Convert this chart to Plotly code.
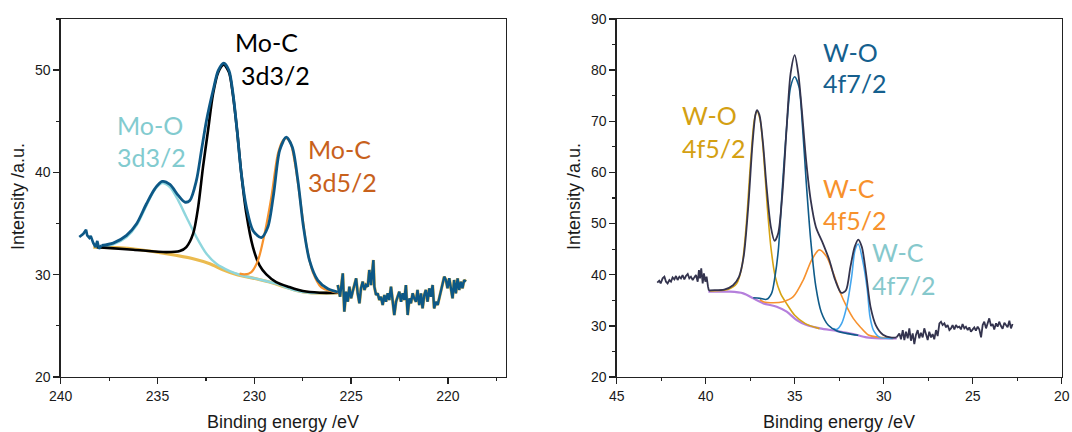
import plotly.graph_objects as go

# ---------------- Left panel (Mo 3d) ----------------
mo_noise_hi_E = [239.04, 238.83, 238.69, 238.63, 238.52, 238.45, 238.32, 238.20, 238.11, 238.02, 237.89]
mo_noise_hi_I = [33.68, 34.00, 34.40, 33.84, 33.60, 33.80, 33.10, 32.70, 33.30, 32.54, 32.87]

mo_env_E = [237.89, 237.29, 236.60, 236.08, 235.57, 235.14, 234.76, 234.36, 233.93, 233.59, 233.33,
            232.99, 232.73, 232.47, 232.13, 231.86, 231.58, 231.31, 231.10, 230.89, 230.67, 230.41,
            230.07, 229.64, 229.30, 229.00, 228.69, 228.35, 228.04, 227.75, 227.46, 227.15, 226.72,
            226.20, 225.69]
mo_env_I = [32.87, 33.09, 33.84, 34.98, 36.94, 38.40, 39.12, 38.83, 37.75, 37.10, 37.26,
            39.22, 42.15, 45.08, 48.01, 49.97, 50.68, 49.97, 47.69, 44.10, 39.87, 36.61,
            34.33, 33.62, 34.66, 37.92, 42.15, 43.45, 42.48, 39.22, 34.66, 31.40, 29.45,
            28.63, 28.31]

mo_noise_lo_E = [225.69, 225.57, 225.43, 225.35, 225.26, 225.17, 225.09, 225.00, 224.92, 224.83,
                 224.74, 224.66, 224.57, 224.49, 224.40, 224.31, 224.23, 224.14, 224.06, 223.97,
                 223.92, 223.85, 223.80, 223.71, 223.63, 223.54, 223.46, 223.37, 223.28, 223.20,
                 223.11, 223.03, 222.94, 222.85, 222.77, 222.68, 222.60, 222.51, 222.42, 222.34,
                 222.25, 222.17, 222.08, 221.99, 221.91, 221.82, 221.74, 221.65, 221.57, 221.48,
                 221.39, 221.31, 221.22, 221.14, 221.05, 220.96, 220.88, 220.79, 220.71, 220.62,
                 220.53, 220.45, 220.36, 220.28, 220.19, 220.10, 220.02, 219.93, 219.85, 219.76,
                 219.68, 219.59, 219.50, 219.42, 219.33, 219.25, 219.16, 219.07]
mo_noise_lo_I = [28.99, 27.85, 30.13, 26.39, 28.34, 27.36, 28.83, 27.69, 28.34, 29.16,
                 29.65, 28.18, 27.20, 28.67, 29.32, 28.51, 28.99, 28.83, 30.46, 28.99,
                 29.81, 31.44, 28.83, 28.02, 28.18, 27.53, 27.85, 27.04, 28.02, 27.36,
                 28.18, 27.53, 28.83, 27.20, 26.06, 27.36, 27.85, 28.34, 27.36, 28.18,
                 27.53, 28.99, 26.06, 27.69, 27.20, 28.18, 27.69, 27.36, 28.51, 27.04,
                 28.18, 26.71, 28.02, 28.51, 27.36, 28.67, 27.85, 28.99, 26.71, 27.36,
                 27.04, 27.69, 28.18, 28.83, 29.81, 29.48, 28.67, 29.65, 28.83, 27.69,
                 29.48, 28.18, 29.65, 28.51, 29.32, 28.67, 29.48, 29.32]

moc32_E = [238.14, 236.25, 234.54, 233.85, 233.51, 233.16, 232.90, 232.65, 232.39, 232.13, 231.86,
           231.58, 231.31, 231.10, 230.89, 230.67, 230.41, 230.07, 229.73, 229.38, 228.87, 228.18,
           227.49, 226.63, 225.69]
moc32_I = [32.70, 32.44, 32.21, 32.31, 32.70, 34.01, 36.61, 40.52, 44.10, 47.69, 49.80,
           50.52, 49.80, 47.52, 44.10, 39.87, 35.96, 32.70, 30.91, 30.03, 29.28, 28.79,
           28.40, 28.24, 28.24]

moo_E = [238.14, 237.29, 236.60, 236.08, 235.57, 235.14, 234.76, 234.36, 233.93, 233.51, 232.99,
         232.47, 231.96, 231.27, 230.58, 229.90, 228.87, 228.01, 227.15, 225.69]
moo_I = [32.70, 32.96, 33.68, 34.82, 36.78, 38.31, 38.96, 38.57, 37.26, 35.64, 33.68,
         32.05, 31.07, 30.36, 29.90, 29.61, 29.12, 28.53, 28.24, 28.24]

moc52_E = [230.76, 230.50, 230.15, 229.81, 229.47, 229.12, 228.78, 228.52, 228.35, 228.14, 227.87,
           227.58, 227.29, 226.98, 226.55, 225.94, 225.69]
moc52_I = [30.10, 30.03, 30.26, 31.40, 34.01, 37.59, 41.82, 43.13, 43.36, 42.96, 40.52,
           36.61, 32.70, 30.26, 28.79, 28.34, 28.24]

mo_bg_E = [238.32, 237.11, 235.91, 234.54, 233.16, 232.30, 231.62, 230.93, 230.07, 229.21, 228.52,
           227.84, 227.15, 225.69]
mo_bg_I = [32.70, 32.64, 32.44, 32.05, 31.56, 31.07, 30.49, 30.03, 29.67, 29.28, 28.86,
           28.47, 28.24, 28.21]

# ---------------- Right panel (W 4f) ----------------
w_noise_hi_E = [42.72, 42.61, 42.53, 42.42, 42.32, 42.23, 42.14, 42.04, 41.95, 41.86, 41.76, 41.67,
                41.58, 41.48, 41.39, 41.30, 41.20, 41.11, 41.01, 40.92, 40.83, 40.73, 40.64, 40.55,
                40.45, 40.38, 40.32, 40.25, 40.17, 40.10, 40.02, 39.95, 39.87, 39.82]
w_noise_hi_I = [38.44, 38.83, 38.31, 39.29, 39.62, 38.64, 38.31, 38.96, 38.64, 39.48, 39.09, 39.75,
                38.96, 39.62, 39.29, 39.94, 39.09, 39.75, 40.14, 39.29, 39.62, 38.96, 39.48, 39.94,
                38.64, 40.92, 39.29, 41.24, 38.31, 40.27, 38.64, 39.62, 37.66, 36.88]

w_env_E = [39.82, 39.75, 38.96, 38.46, 38.13, 37.87, 37.61, 37.37, 37.21, 37.12, 36.98, 36.78, 36.58,
           36.34, 36.13, 35.93, 35.69, 35.45, 35.23, 35.00, 34.80, 34.60, 34.36, 34.10, 33.81,
           33.41, 33.05, 32.72, 32.38, 32.12, 31.87, 31.63, 31.43, 31.23, 30.99, 30.74, 30.44,
           30.04, 29.55, 29.27]
w_env_I = [36.88, 36.96, 37.09, 37.94, 39.57, 43.48, 53.27, 65.66, 71.21, 72.19, 71.21, 65.66, 57.18,
           49.35, 46.61, 48.05, 55.88, 68.92, 79.36, 82.95, 79.36, 72.19, 62.40, 54.57, 49.35,
           46.09, 42.83, 38.92, 36.44, 36.96, 41.53, 45.44, 46.88, 45.44, 40.22, 33.70, 30.11,
           28.28, 27.70, 27.75]

w_noise_lo_E = [29.27, 29.12, 29.03, 28.93, 28.84, 28.75, 28.65, 28.56, 28.47, 28.37, 28.28, 28.19,
                28.09, 28.00, 27.91, 27.81, 27.72, 27.62, 27.53, 27.44, 27.34, 27.25, 27.16, 27.06,
                26.97, 26.87, 26.78, 26.69, 26.59, 26.50, 26.41, 26.31, 26.22, 26.13, 26.03, 25.94,
                25.85, 25.75, 25.66, 25.57, 25.47, 25.38, 25.28, 25.19, 25.10, 25.00, 24.91, 24.82,
                24.72, 24.63, 24.53, 24.44, 24.35, 24.25, 24.16, 24.07, 23.97, 23.88, 23.79, 23.69,
                23.60, 23.51, 23.41, 23.32, 23.22, 23.13, 23.04, 22.94, 22.85, 22.76]
w_noise_lo_I = [27.75, 28.53, 27.36, 29.18, 27.23, 28.86, 27.56, 29.51, 27.10, 28.53, 26.45, 28.21,
                29.18, 27.56, 28.66, 27.75, 29.51, 28.01, 27.23, 28.86, 27.75, 28.40, 27.36, 29.18,
                28.01, 30.49, 30.81, 30.16, 30.49, 29.71, 30.16, 29.18, 29.51, 30.16, 29.31, 30.16,
                29.71, 29.84, 29.31, 30.36, 29.51, 29.84, 29.18, 29.71, 28.86, 29.31, 29.71, 29.05,
                29.84, 29.31, 27.75, 30.16, 30.81, 29.51, 30.49, 31.47, 29.97, 30.36, 29.31, 30.49,
                29.84, 30.81, 29.97, 29.45, 30.62, 30.16, 29.71, 31.01, 29.51, 30.36]

wo52_E = [39.75, 38.76, 38.26, 37.97, 37.73, 37.47, 37.27, 37.12, 36.94, 36.74, 36.54, 36.34,
          36.09, 35.79, 35.43, 35.00, 34.40, 33.61]
wo52_I = [36.83, 37.09, 38.26, 41.53, 49.35, 62.40, 70.23, 71.99, 70.23, 63.05, 53.27, 45.44,
          39.57, 36.31, 34.22, 32.07, 30.44, 29.46]

wo72_E = [37.33, 36.95, 36.58, 36.30, 36.11, 35.92, 35.69, 35.45, 35.23, 35.00, 34.76, 34.56,
          34.36, 34.10, 33.81, 33.51, 33.11, 32.62, 32.02, 31.43]
wo72_I = [35.50, 35.38, 35.18, 36.36, 39.60, 44.80, 57.18, 68.92, 76.75, 78.71, 76.75, 68.92,
          58.49, 46.75, 37.61, 32.72, 30.11, 29.00, 28.48, 28.15]

wc52_E = [36.95, 36.76, 36.20, 35.64, 35.08, 34.52, 34.05, 33.62, 33.21, 32.83, 32.46, 32.08,
          31.71, 31.33, 30.86, 30.21, 29.46]
wc52_I = [35.10, 34.73, 34.53, 34.73, 35.70, 38.96, 42.87, 44.85, 43.53, 40.27, 36.68, 33.75,
          31.47, 29.84, 28.21, 27.75, 27.56]

wc72_E = [32.83, 32.64, 32.36, 32.08, 31.80, 31.61, 31.43, 31.15, 30.92, 30.77, 30.58, 30.21, 29.46]
wc72_I = [29.51, 29.31, 30.49, 33.75, 39.62, 44.83, 46.00, 42.23, 37.00, 31.79, 29.18, 27.75, 27.56]

w_bg_E = [39.85, 38.64, 37.89, 37.33, 36.76, 36.01, 35.45, 34.89, 34.33, 33.58, 32.64, 31.71,
          30.96, 30.21, 29.27]
w_bg_I = [36.68, 36.68, 36.36, 35.38, 34.40, 33.75, 32.77, 31.14, 30.16, 29.51, 28.99, 28.40,
          27.75, 27.56, 27.56]

x_ticks_left = [240, 235, 230, 225, 220]
x_ticks_right = [45, 40, 35, 30, 25, 20]

# ---------------- Figure ----------------
W, H = 1072, 432
fig = go.Figure()


def line(x, y, color, width, xa, ya, shape="spline"):
    fig.add_trace(go.Scatter(x=x, y=y, mode="lines", xaxis=xa, yaxis=ya,
                             line=dict(color=color, width=width, shape=shape,
                                       smoothing=0.8 if shape == "spline" else None),
                             hoverinfo="skip", showlegend=False))


MO_ENV = "#0d5886"
# left panel
line(mo_bg_E, mo_bg_I, "#ebbb4f", 3.2, "x", "y")
line(mo_noise_lo_E, mo_noise_lo_I, "#e2b650", 3.2, "x", "y", "linear")
line(moo_E, moo_I, "#8fd6dd", 2.4, "x", "y")
line(moc32_E, moc32_I, "#000000", 2.6, "x", "y")
line(moc52_E, moc52_I, "#f7922c", 2.2, "x", "y")
line(mo_noise_hi_E, mo_noise_hi_I, MO_ENV, 2.6, "x", "y", "linear")
line(mo_env_E, mo_env_I, MO_ENV, 2.8, "x", "y")
line(mo_noise_lo_E, mo_noise_lo_I, MO_ENV, 2.4, "x", "y", "linear")

W_ENV = "#34344e"
# right panel
line(w_bg_E, w_bg_I, "#b57fdc", 2.2, "x2", "y2")
line(wo52_E, wo52_I, "#d6a312", 1.6, "x2", "y2")
line(wc52_E, wc52_I, "#f7922f", 1.6, "x2", "y2")
line(wc72_E, wc72_I, "#44a6ee", 1.6, "x2", "y2")
line(wo72_E, wo72_I, "#0f5b89", 1.6, "x2", "y2")
line(w_noise_hi_E, w_noise_hi_I, W_ENV, 1.8, "x2", "y2", "linear")
line(w_env_E, w_env_I, W_ENV, 1.8, "x2", "y2")
line(w_noise_lo_E, w_noise_lo_I, W_ENV, 1.8, "x2", "y2", "linear")

yd = [1 - 377 / H, 1 - 19 / H]
tickfont = dict(family="Liberation Sans, Arial", size=14, color="#1a1a1a")
common_ax = dict(showline=True, linecolor="#222222", linewidth=1.4, mirror=True,
                 ticks="outside", ticklen=6, tickwidth=1.3, tickcolor="#222222",
                 showgrid=False, zeroline=False, tickfont=tickfont, automargin=False,
                 minor=dict(ticks="outside", ticklen=3, tickwidth=1.2, tickcolor="#222222",
                            showgrid=False))

fig.update_layout(
    width=W, height=H, margin=dict(l=0, r=0, t=0, b=0),
    paper_bgcolor="white", plot_bgcolor="white",
    xaxis=dict(domain=[60.7 / W, 506 / W], range=[240, 217], tickvals=x_ticks_left,
               anchor="y", **common_ax),
    yaxis=dict(domain=yd, range=[20, 55], dtick=10, tick0=0, anchor="x", **common_ax),
    xaxis2=dict(domain=[616.7 / W, 1061.7 / W], range=[45, 20], tickvals=x_ticks_right,
                anchor="y2", **common_ax),
    yaxis2=dict(domain=yd, range=[20, 90], dtick=10, tick0=0, anchor="x2", **common_ax),
)
fig.update_xaxes(minor_dtick=2.5, minor_tick0=0)
fig.update_yaxes(minor_dtick=5, minor_tick0=0)

# axis titles
tfont = dict(family="Liberation Sans, Arial", size=18, color="#1a1a1a")
for xc in [(60.7 + 506) / 2, (616.7 + 1061.7) / 2]:
    fig.add_annotation(text="Binding energy /eV", x=xc / W, y=1 - 421.5 / H, xref="paper",
                       yref="paper", showarrow=False, font=tfont, xanchor="center",
                       yanchor="middle")
for xc in [18, 574]:
    fig.add_annotation(text="Intensity /a.u.", x=xc / W, y=1 - 197 / H, xref="paper",
                       yref="paper", showarrow=False, font=tfont, textangle=-90,
                       xanchor="center", yanchor="middle")

# peak labels
lab_font = "Lato, Calibri, sans-serif"
labels = [
    ("Mo-C", 231.10, 52.75, "#000000", "x", "y"),
    ("3d3/2", 230.79, 49.52, "#000000", "x", "y"),
    ("Mo-O", 237.20, 44.63, "#82cbcf", "x", "y"),
    ("3d3/2", 237.20, 41.50, "#82cbcf", "x", "y"),
    ("Mo-C", 227.31, 42.29, "#c8611c", "x", "y"),
    ("3d5/2", 227.31, 39.06, "#c8611c", "x", "y"),
    ("W-O", 33.55, 83.6, "#155f8e", "x2", "y2"),
    ("4f7/2", 33.55, 77.4, "#155f8e", "x2", "y2"),
    ("W-O", 41.47, 71.2, "#d4a012", "x2", "y2"),
    ("4f5/2", 41.47, 64.7, "#d4a012", "x2", "y2"),
    ("W-C", 33.51, 56.9, "#f7912c", "x2", "y2"),
    ("4f5/2", 33.51, 50.7, "#f7912c", "x2", "y2"),
    ("W-C", 30.78, 44.5, "#86c8cc", "x2", "y2"),
    ("4f7/2", 30.78, 37.9, "#86c8cc", "x2", "y2"),
]
for txt, xv, yv, col, xr, yr in labels:
    fig.add_annotation(text=txt, x=xv, y=yv, xref=xr, yref=yr, showarrow=False,
                       xanchor="left", yanchor="middle",
                       font=dict(family=lab_font, size=25, color=col))

fig.write_html("out.html", config={"displayModeBar": False, "staticPlot": True},
               post_script="document.body.style.margin='0';document.body.style.padding='0';"
                           "document.body.style.overflow='hidden';")
